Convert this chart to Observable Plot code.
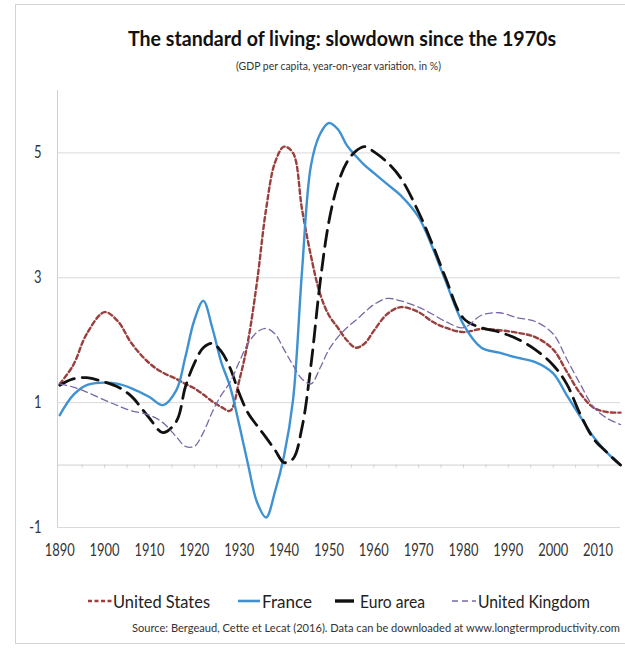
<!DOCTYPE html>
<html>
<head>
<meta charset="utf-8">
<script src="https://cdn.jsdelivr.net/npm/d3@7"></script>
<script src="https://cdn.jsdelivr.net/npm/@observablehq/plot@0.6"></script>
<style>
  body { margin:0; background:#fff; font-family:Lato,"Open Sans",sans-serif; }
  .abs { position:absolute; white-space:nowrap; line-height:1; }
  #frame { left:15px; top:4px; width:700px; height:638px; border:1px solid #d4d4d4; }
  #title { font-weight:bold; font-size:21px; color:#111; }
  #subtitle { font-size:10.5px; color:#333; }
  .legtext { font-size:17px; color:#222; }
  #source { font-size:12px; color:#333; }
</style>
</head>
<body>
<div id="frame" class="abs"></div>
<div id="chart" class="abs" style="left:0;top:0"></div>
<div id="title" class="abs">The standard of living: slowdown since the 1970s</div>
<div id="subtitle" class="abs">(GDP per capita, year-on-year variation, in %)</div>
<div id="legend"></div>
<div id="source" class="abs">Source: Bergeaud, Cette et Lecat (2016). Data can be downloaded at www.longtermproductivity.com</div>
<script>
// ---- data ----
const years = [1890,1893,1896,1900,1903,1906,1910,1913,1916,1918,1920,1922,1924,1926,1928,1930,1932,1934,1936,1938,1940,1942,1944,1946,1948,1950,1952,1954,1956,1958,1960,1963,1966,1970,1973,1976,1980,1984,1988,1992,1996,2000,2003,2006,2009,2012,2015];
const unitedStates = [1.3,1.6,2.1,2.45,2.3,1.95,1.63,1.48,1.38,1.3,1.23,1.13,1.02,0.93,0.87,1.35,2.0,2.95,4.1,4.85,5.1,5.0,4.1,3.35,2.75,2.4,2.2,2.0,1.88,1.95,2.15,2.42,2.53,2.45,2.3,2.2,2.13,2.18,2.16,2.12,2.05,1.85,1.5,1.15,0.92,0.85,0.84];
const france = [0.8,1.12,1.28,1.32,1.3,1.23,1.09,0.96,1.2,1.73,2.32,2.63,2.2,1.65,1.25,0.65,0.0,-0.6,-0.84,-0.42,0.15,1.04,3.1,4.8,5.3,5.48,5.38,5.12,4.95,4.8,4.68,4.5,4.32,3.97,3.5,2.95,2.25,1.88,1.8,1.72,1.65,1.47,1.12,0.78,0.45,0.2,0.0];
const euroArea = [1.28,1.38,1.4,1.33,1.25,1.1,0.75,0.52,0.7,1.25,1.63,1.88,1.95,1.82,1.55,1.15,0.83,0.63,0.44,0.24,0.04,0.1,0.6,1.6,2.9,3.9,4.5,4.85,5.03,5.1,5.02,4.85,4.6,4.05,3.55,3.0,2.35,2.2,2.13,2.02,1.85,1.6,1.3,0.82,0.42,0.2,0.0];
const unitedKingdom = [1.3,1.25,1.17,1.04,0.95,0.87,0.8,0.68,0.45,0.3,0.3,0.52,0.85,1.12,1.33,1.65,1.95,2.13,2.19,2.1,1.85,1.6,1.38,1.3,1.55,1.85,2.05,2.2,2.32,2.45,2.57,2.67,2.63,2.53,2.42,2.3,2.2,2.4,2.44,2.36,2.3,2.1,1.7,1.3,0.93,0.75,0.65];
const seriesNames = ["United States","France","Euro area","United Kingdom"];
const xTicks = [1890,1900,1910,1920,1930,1940,1950,1960,1970,1980,1990,2000,2010];
const yTicks = [5,3,1,-1];
const minorTicks = d3.range(1895, 2015, 5);

const styles = {
  "United States": {stroke:"#99403e", strokeWidth:2.4, strokeDasharray:"4.5,3"},
  "France": {stroke:"#3f92d2", strokeWidth:2.4, strokeDasharray:null},
  "Euro area": {stroke:"#111", strokeWidth:2.8, strokeDasharray:"16,8"},
  "United Kingdom": {stroke:"#7a68a6", strokeWidth:1.3, strokeDasharray:"7,4"}
};
const values = [unitedStates, france, euroArea, unitedKingdom];
const tables = seriesNames.map((s, i) => years.map((y, j) => ({year:y, value:values[i][j], series:s})));

const F = 'Lato,"Open Sans",sans-serif';

const lineMarks = seriesNames.map((s, i) => {
  const st = styles[s];
  const o = {x:"year", y:"value", curve:"catmull-rom", stroke:st.stroke, strokeWidth:st.strokeWidth};
  if (st.strokeDasharray) o.strokeDasharray = st.strokeDasharray;
  return Plot.line(tables[i], o);
});

const chart = Plot.plot({
  width: 625,
  height: 580,
  marginLeft: 57,
  marginRight: 5,
  marginTop: 90,
  marginBottom: 53,
  x: {domain:[1889.5, 2015], label:null},
  y: {domain:[-1, 6], label:null},
  style: {fontFamily: F, fontSize: "17px", color: "#333", background: "transparent"},
  marks: [
    Plot.ruleY(yTicks, {stroke:"#d9d9d9", strokeWidth:1}),
    Plot.ruleY([0], {stroke:"#cfcfcf", strokeWidth:1}),
    Plot.ruleX(minorTicks, {y1:0, y2:-0.05, stroke:"#cfcfcf"}),
    Plot.ruleX([1889.5], {y1:-1, y2:6, stroke:"#d0d0d0"}),
    ...lineMarks,
    Plot.axisX({ticks:xTicks, tickSize:0, tickPadding:16, tickFormat:d => String(d), fontSize:17, label:null}),
    Plot.axisY({ticks:yTicks, tickSize:0, tickPadding:16, tickFormat:d => String(d), fontSize:17, label:null})
  ]
});
document.getElementById("chart").appendChild(chart);

// condense the axis tick labels (Calibri-like narrow digits)
chart.querySelectorAll("g[aria-label*='tick label'] text").forEach(t => {
  const w = t.getComputedTextLength();
  if (w > 0) {
    t.setAttribute("textLength", (w * 0.76).toFixed(1));
    t.setAttribute("lengthAdjust", "spacingAndGlyphs");
  }
});

// place a text element on a given left edge / width / vertical centre
function place(el, left, width, cy) {
  el.style.left = left + "px";
  const r = el.getBoundingClientRect();
  el.style.top = (cy - r.height / 2) + "px";
  el.style.transformOrigin = "0 50%";
  el.style.transform = `scaleX(${width / r.width})`;
}
place(document.getElementById("title"), 128, 428, 37);
place(document.getElementById("subtitle"), 236, 205, 66);
place(document.getElementById("source"), 132, 488, 628);

// ---- legend ----
const legendLayout = [
  {sw:[88,112], text:[113,97]},
  {sw:[238,260], text:[262,50]},
  {sw:[335,354], text:[360,65]},
  {sw:[452,476], text:[478,112]}
];
const legend = document.getElementById("legend");
seriesNames.forEach((s, i) => {
  const st = styles[s];
  const L = legendLayout[i];
  const w = L.sw[1] - L.sw[0];
  const svg = document.createElement("div");
  svg.className = "abs";
  svg.style.left = L.sw[0] + "px";
  svg.style.top = "596px";
  const dash = s === "United States" ? 'stroke-dasharray="4,2.5"' : s === "United Kingdom" ? 'stroke-dasharray="6,4"' : "";
  const sw = s === "Euro area" ? 3.4 : s === "United Kingdom" ? 1.3 : 2.6;
  svg.innerHTML = `<svg width="${w}" height="10" style="display:block"><line x1="0" x2="${w}" y1="5" y2="5" stroke="${st.stroke}" stroke-width="${sw}" ${dash}/></svg>`;
  legend.appendChild(svg);
  const span = document.createElement("div");
  span.className = "abs legtext";
  span.textContent = s;
  legend.appendChild(span);
  place(span, L.text[0], L.text[1], 601);
});
</script>
</body>
</html>
